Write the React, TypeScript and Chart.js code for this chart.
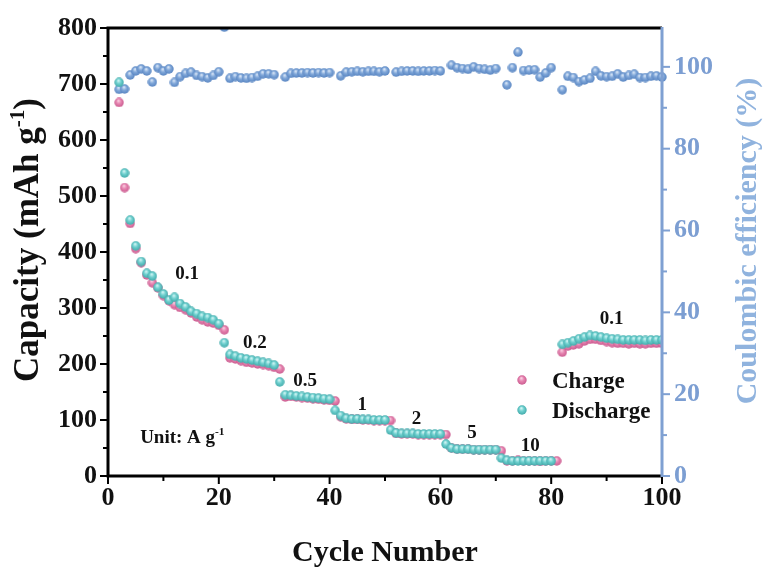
import React, { useEffect, useRef } from 'react';
import { Chart, registerables } from 'chart.js';

Chart.register(...registerables);

const cycles = [
  2, 3, 4, 5, 6, 7, 8, 9, 10, 11, 12, 13, 14, 15, 16, 17, 18, 19, 20,
  21, 22, 23, 24, 25, 26, 27, 28, 29, 30, 31, 32, 33, 34, 35, 36, 37, 38, 39, 40,
  41, 42, 43, 44, 45, 46, 47, 48, 49, 50, 51, 52, 53, 54, 55, 56, 57, 58, 59, 60,
  61, 62, 63, 64, 65, 66, 67, 68, 69, 70, 71, 72, 73, 74, 75, 76, 77, 78, 79, 80,
  81, 82, 83, 84, 85, 86, 87, 88, 89, 90, 91, 92, 93, 94, 95, 96, 97, 98, 99, 100,
];

const chargeCapacity = [
  667, 515, 451, 406, 381, 359, 345, 336, 322, 313, 306, 301, 297, 291, 284, 279, 275, 273, 269,
  261, 211, 209, 206, 203, 202, 200, 199, 197, 194, 191, 141, 142, 141, 140, 139, 138, 137, 136, 135,
  134, 106, 102, 101, 101, 100, 100, 99, 99, 99, 99, 76, 75, 75, 75, 74, 74, 74, 74, 74,
  74, 50, 48, 48, 48, 47, 47, 47, 47, 47, 45, 27, 27, 28, 27, 27, 27, 26, 27, 27,
  27, 221, 232, 234, 236, 241, 244, 244, 242, 240, 238, 237, 237, 236, 237, 236, 236, 237, 237, 237,
];

const dischargeCapacity = [
  703, 541, 457, 411, 383, 362, 357, 337, 325, 314, 319, 308, 302, 294, 290, 285, 283, 279, 272,
  238, 217, 214, 211, 209, 207, 205, 203, 201, 198, 168, 145, 144, 143, 142, 141, 140, 139, 138, 137,
  117, 108, 103, 102, 102, 101, 101, 100, 100, 100, 82, 77, 76, 76, 76, 75, 75, 75, 75, 75,
  57, 50, 48, 48, 48, 47, 47, 47, 47, 47, 32, 28, 27, 27, 27, 27, 27, 27, 27, 27,
  null, 235, 238, 241, 245, 248, 251, 250, 248, 246, 245, 244, 243, 243, 243, 243, 242, 243, 243, 243,
];

const coulombicEfficiency = [
  94.5, 94.6, 98.0, 99.0, 99.5, 99.0, 96.3, 99.8, 99.0, 99.5, 96.2, 97.6, 98.4, 98.7, 97.9, 97.6, 97.3, 97.9, 98.8,
  109.7, 97.2, 97.6, 97.3, 97.2, 97.4, 97.7, 98.3, 98.3, 98.1, 114, 97.5, 98.4, 98.5, 98.5, 98.6, 98.5, 98.6, 98.5, 98.6,
  116, 97.8, 98.7, 98.8, 98.9, 98.8, 98.9, 98.9, 98.8, 99.0, 121, 98.7, 98.9, 99.0, 99.0, 98.9, 99.0, 99.0, 99.1, 99.0,
  131, 100.4, 99.8, 99.6, 99.4, 100.0, 99.6, 99.4, 99.2, 99.6, 144, 95.6, 99.8, 103.6, 99.1, 99.2, 99.3, 97.5, 98.5, 99.8,
  null, 94.4, 97.7, 97.4, 96.4, 96.8, 97.2, 98.9, 97.8, 97.6, 97.7, 98.3, 97.5, 97.9, 98.2, 97.4, 97.4, 97.7, 97.8, 97.5,
];

const xTicks = { min: 0, max: 100, major: 20, minor: 10 };
const capTicks = { min: 0, max: 800, major: 100, minor: 50 };
const ceTicks = { min: 0, max: 109.5, major: 20, minor: 10, last: 100 };

const rateLabels = ['0.1', '0.2', '0.5', '1', '2', '5', '10', '0.1'];
const rateLabelCycle = [14.3, 26.5, 35.6, 45.9, 55.7, 65.7, 76.2, 90.9];
const rateLabelCapacity = [364, 241, 173, 130, 105, 79, 57, 283];

const legendNames = ['Charge', 'Discharge'];

const SERIF = "'Liberation Serif', 'Times New Roman', serif";
const PINK = ['#e684b0', '#fbd3e5', '#c9598e'];
const TEAL = ['#6fd0cf', '#d6f7f6', '#3fa8a8'];
const BLUE = ['#80a7d9', '#dde9f8', '#5683c0'];
const AXIS_BLUE = '#7fa0d2';
const LABEL_BLUE = '#7c9ed2';
const TITLE_BLUE = '#90b3de';

function makeBall(cols: string[], d: number) {
  const c = document.createElement('canvas');
  c.width = d;
  c.height = d;
  const g = c.getContext('2d')!;
  const r = d / 2;
  const grad = g.createRadialGradient(r * 0.85, r * 0.6, r * 0.05, r, r, r);
  grad.addColorStop(0, cols[1]);
  grad.addColorStop(0.45, cols[0]);
  grad.addColorStop(1, cols[2]);
  g.fillStyle = grad;
  g.beginPath();
  g.arc(r, r, r - 0.3, 0, Math.PI * 2);
  g.fill();
  return c;
}

type Part = { t: string; sup?: boolean };

function richWidth(ctx: CanvasRenderingContext2D, parts: Part[], size: number) {
  let w = 0;
  for (const p of parts) {
    ctx.font = `bold ${p.sup ? size * 0.6 : size}px ${SERIF}`;
    w += ctx.measureText(p.t).width;
  }
  return w;
}

function drawRich(ctx: CanvasRenderingContext2D, parts: Part[], x: number, y: number, size: number, color: string, align: 'left' | 'center') {
  const total = richWidth(ctx, parts, size);
  let cx = align === 'center' ? x - total / 2 : x;
  ctx.fillStyle = color;
  ctx.textAlign = 'left';
  ctx.textBaseline = 'alphabetic';
  for (const p of parts) {
    const s = p.sup ? size * 0.6 : size;
    ctx.font = `bold ${s}px ${SERIF}`;
    ctx.fillText(p.t, cx, p.sup ? y - size * 0.4 : y);
    cx += ctx.measureText(p.t).width;
  }
}

function makeDecorPlugin(balls: HTMLCanvasElement[]) {
  return {
    id: 'decor',
    afterDatasetsDraw(chart: any) {
      const { ctx, chartArea: a, scales } = chart;
      const xs = scales.x, ys = scales.y, y2 = scales.y2;
      ctx.save();
      ctx.lineCap = 'butt';
      ctx.lineWidth = 2;
      ctx.strokeStyle = '#000';
      for (let v = capTicks.min; v <= capTicks.max; v += capTicks.minor) {
        const p = ys.getPixelForValue(v);
        const len = v % capTicks.major === 0 ? 8 : 5;
        ctx.beginPath(); ctx.moveTo(a.left - len, p); ctx.lineTo(a.left, p); ctx.stroke();
      }
      for (let v = xTicks.min; v <= xTicks.max; v += xTicks.minor) {
        const p = xs.getPixelForValue(v);
        const len = v % xTicks.major === 0 ? 8 : 5;
        ctx.beginPath(); ctx.moveTo(p, a.bottom); ctx.lineTo(p, a.bottom + len); ctx.stroke();
      }
      ctx.strokeStyle = AXIS_BLUE;
      for (let v = ceTicks.min; v <= ceTicks.last; v += ceTicks.minor) {
        const p = y2.getPixelForValue(v);
        const len = v % ceTicks.major === 0 ? 8 : 5;
        ctx.beginPath(); ctx.moveTo(a.right, p); ctx.lineTo(a.right + len, p); ctx.stroke();
      }
      ctx.lineWidth = 3;
      ctx.strokeStyle = '#000';
      ctx.beginPath();
      ctx.moveTo(a.right, a.top); ctx.lineTo(a.left, a.top); ctx.lineTo(a.left, a.bottom); ctx.lineTo(a.right, a.bottom);
      ctx.stroke();
      ctx.strokeStyle = AXIS_BLUE;
      ctx.beginPath(); ctx.moveTo(a.right, a.top - 1); ctx.lineTo(a.right, a.bottom + 1); ctx.stroke();
      ctx.restore();
    },
    afterDraw(chart: any) {
      const { ctx, chartArea: a, scales } = chart;
      const xs = scales.x, ys = scales.y;
      ctx.save();
      drawRich(ctx, [{ t: 'Cycle Number' }], (a.left + a.right) / 2, 561, 30, '#111', 'center');
      ctx.save();
      ctx.translate(26 + 35 * 0.34, 240);
      ctx.rotate(-Math.PI / 2);
      drawRich(ctx, [{ t: 'Capacity (mAh g' }, { t: '-1', sup: true }, { t: ')' }], 0, 0, 35, '#111', 'center');
      ctx.restore();
      ctx.save();
      ctx.translate(746 + 30 * 0.34, 241);
      ctx.rotate(-Math.PI / 2);
      drawRich(ctx, [{ t: 'Coulombic efficiency (%)' }], 0, 0, 30, TITLE_BLUE, 'center');
      ctx.restore();
      rateLabels.forEach((lab, i) => {
        const px = xs.getPixelForValue(rateLabelCycle[i]);
        const py = ys.getPixelForValue(rateLabelCapacity[i]);
        drawRich(ctx, [{ t: lab }], px, py + 19 * 0.34, 19, '#111', 'center');
      });
      drawRich(ctx, [{ t: 'Unit: A g' }, { t: '-1', sup: true }], xs.getPixelForValue(5.8), ys.getPixelForValue(70) + 6, 19, '#111', 'left');
      legendNames.forEach((name, i) => {
        const cy = a.top + 352 + i * 30;
        const b = balls[i];
        ctx.drawImage(b, a.left + 414 - b.width / 2, cy - b.height / 2);
        drawRich(ctx, [{ t: name }], a.left + 444, cy + 8, 23, '#111', 'left');
      });
      ctx.restore();
    },
  };
}

export default function App() {
  const ref = useRef<HTMLCanvasElement>(null);
  useEffect(() => {
    document.body.style.margin = '0';
    const ballPink = makeBall(PINK, 10);
    const ballTeal = makeBall(TEAL, 10);
    const ballBlue = makeBall(BLUE, 10);
    const mk = (vals: (number | null)[]) => cycles.map((c, i) => ({ x: c, y: vals[i] }));
    const tickFont = { family: SERIF, size: 26, weight: 'bold' as const };
    const chart = new Chart(ref.current!, {
      type: 'scatter',
      data: {
        datasets: [
          {
            label: 'Coulombic efficiency',
            data: mk(coulombicEfficiency),
            yAxisID: 'y2',
            pointStyle: ballBlue,
            pointRadius: 5,
            order: 3,
            clip: { left: 6, right: 6, top: 0, bottom: 6 },
          },
          {
            label: 'Charge',
            data: mk(chargeCapacity),
            yAxisID: 'y',
            pointStyle: ballPink,
            pointRadius: 5,
            order: 2,
          },
          {
            label: 'Discharge',
            data: mk(dischargeCapacity),
            yAxisID: 'y',
            pointStyle: ballTeal,
            pointRadius: 5,
            order: 1,
          },
        ],
      } as any,
      options: {
        animation: false,
        responsive: false,
        layout: { padding: { top: 28, left: 0, right: 0, bottom: 0 } },
        plugins: { legend: { display: false }, tooltip: { enabled: false } },
        scales: {
          x: {
            type: 'linear',
            min: xTicks.min,
            max: xTicks.max,
            grid: { display: false, drawTicks: false },
            border: { display: false },
            ticks: { stepSize: xTicks.major, font: tickFont, color: '#111', padding: 7, maxRotation: 0 },
            afterFit: (s: any) => { s.height = 94; },
          },
          y: {
            type: 'linear',
            position: 'left',
            min: capTicks.min,
            max: capTicks.max,
            grid: { display: false, drawTicks: false },
            border: { display: false },
            ticks: { stepSize: capTicks.major, font: tickFont, color: '#111', padding: 11 },
            afterFit: (s: any) => { s.width = 108; },
          },
          y2: {
            type: 'linear',
            position: 'right',
            min: ceTicks.min,
            max: ceTicks.max,
            grid: { display: false, drawTicks: false },
            border: { display: false },
            ticks: { stepSize: ceTicks.major, font: tickFont, color: LABEL_BLUE, padding: 12 },
            afterBuildTicks: (s: any) => { s.ticks = s.ticks.filter((t: any) => t.value % ceTicks.major === 0); },
            afterFit: (s: any) => { s.width = 102; },
          },
        },
      } as any,
      plugins: [makeDecorPlugin([ballPink, ballTeal])],
    });
    return () => chart.destroy();
  }, []);
  return (
    <div style={{ width: 764, height: 570, background: '#fff' }}>
      <canvas ref={ref} width={764} height={570} style={{ display: 'block', width: 764, height: 570 }} />
    </div>
  );
}
